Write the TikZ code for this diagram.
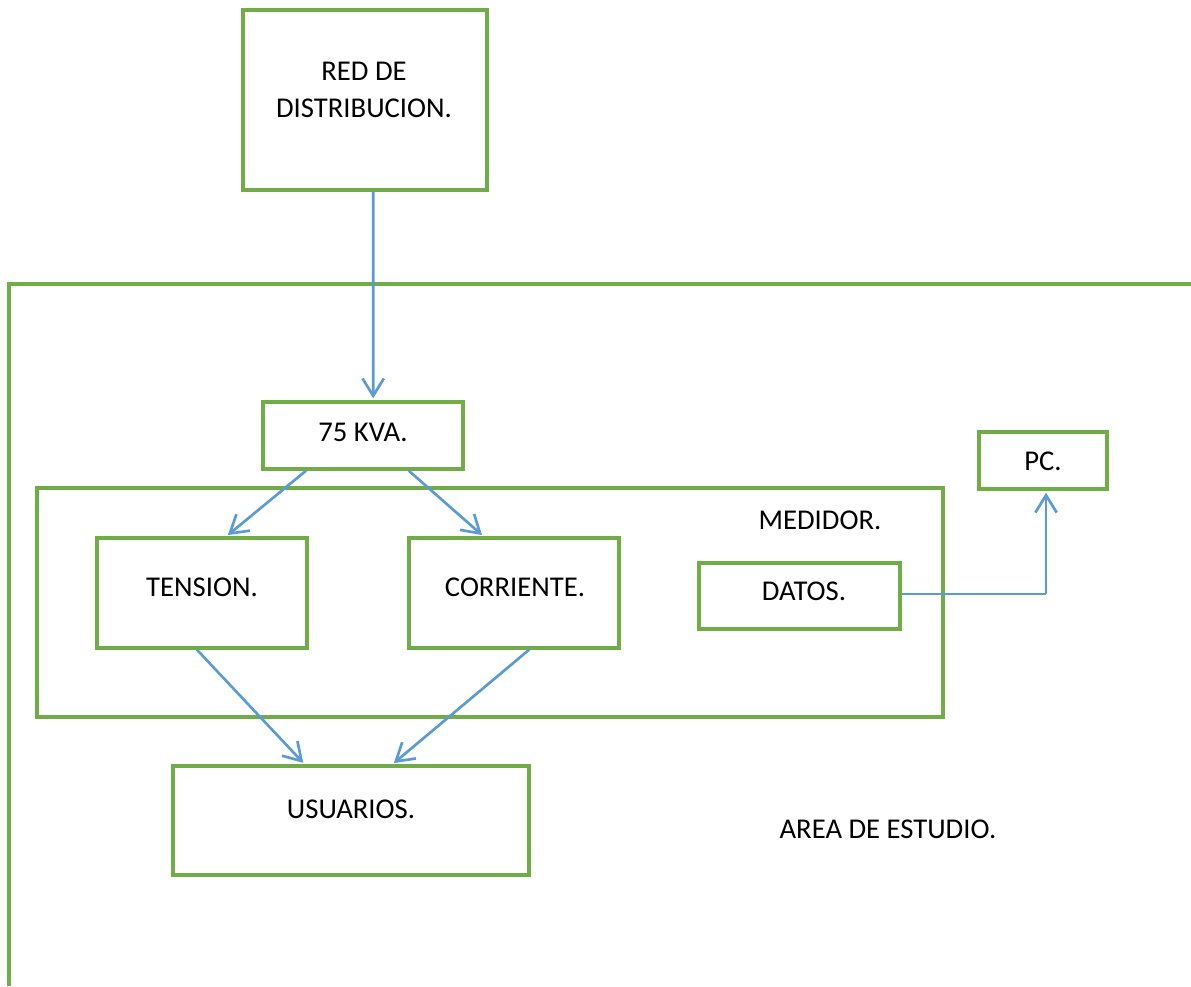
\documentclass[tikz,border=0pt]{standalone}
\usepackage{fontspec}
\setmainfont{Carlito}
\usetikzlibrary{arrows.meta,fit,calc}
\definecolor{boxgreen}{RGB}{112,173,71}
\definecolor{flowblue}{RGB}{91,155,213}
\tikzset{
  box/.style={draw=boxgreen, line width=2.5pt, inner sep=0pt, rectangle},
  txt/.style={inner sep=0pt, font=\fontsize{21.5}{27.75}\selectfont, align=center, text=black},
  flow/.style={draw=flowblue, line width=2pt, shorten >=1.5pt,
    -{Straight Barb[length=13pt,width=16pt,line width=2pt]}},
  thinflow/.style={draw=flowblue, line width=1.1pt},
}
\begin{document}
\begin{tikzpicture}[x=0.75pt,y=-0.75pt]
  \useasboundingbox (0,0) rectangle (1191,986);

  % study area frame (open on the right and bottom)
  \coordinate (area-bl) at (9,986);
  \coordinate (area-tl) at (9,284);
  \coordinate (area-tr) at (1191,284);
  \draw[draw=boxgreen, line width=2.5pt] (area-bl) -- (area-tl) -- (area-tr);

  % boxes
  \node[box, fit={(243,10)(487,190)}] (red) {};
  \node[box, fit={(263,402)(463,469)}] (kva) {};
  \node[box, fit={(37,488)(943,717)}] (medidor) {};
  \node[box, fit={(97,538)(307,648)}] (tension) {};
  \node[box, fit={(409,538)(619,648)}] (corriente) {};
  \node[box, fit={(699,563)(900,629)}] (datos) {};
  \node[box, fit={(979,432)(1107,489)}] (pc) {};
  \node[box, fit={(173,766)(529,875)}] (usuarios) {};

  % texts
  \node[txt] (red-t) at (364,90) {RED DE\\DISTRIBUCION.};
  \node[txt] (kva-t) at (363,432) {75 KVA.};
  \node[txt] (medidor-t) at (820,520) {MEDIDOR.};
  \node[txt] (tension-t) at (202,587) {TENSION.};
  \node[txt] (corriente-t) at (515,587) {CORRIENTE.};
  \node[txt] (datos-t) at (804,591) {DATOS.};
  \node[txt] (pc-t) at (1043,461) {PC.};
  \node[txt] (usuarios-t) at (351,809) {USUARIOS.};
  \node[txt] (area-t) at (888,829) {AREA DE ESTUDIO.};

  % connectors
  \draw[flow] ($(red.south west)!0.533!(red.south east)$) -- ($(kva.north west)!0.55!(kva.north east)$);
  \draw[flow] ($(kva.south west)!0.22!(kva.south east)$) -- ($(tension.north west)!0.614!(tension.north east)$);
  \draw[flow] ($(kva.south west)!0.725!(kva.south east)$) -- ($(corriente.north west)!0.357!(corriente.north east)$);
  \draw[flow] ($(tension.south west)!0.476!(tension.south east)$) -- ($(usuarios.north west)!0.371!(usuarios.north east)$);
  \draw[flow] ($(corriente.south west)!0.571!(corriente.south east)$) -- ($(usuarios.north west)!0.615!(usuarios.north east)$);

  \coordinate (bend) at (1046,594);
  \draw[thinflow] (datos.east |- bend) -- (bend);
  \draw[flow] (bend) -- (bend |- pc.south);
\end{tikzpicture}
\end{document}
